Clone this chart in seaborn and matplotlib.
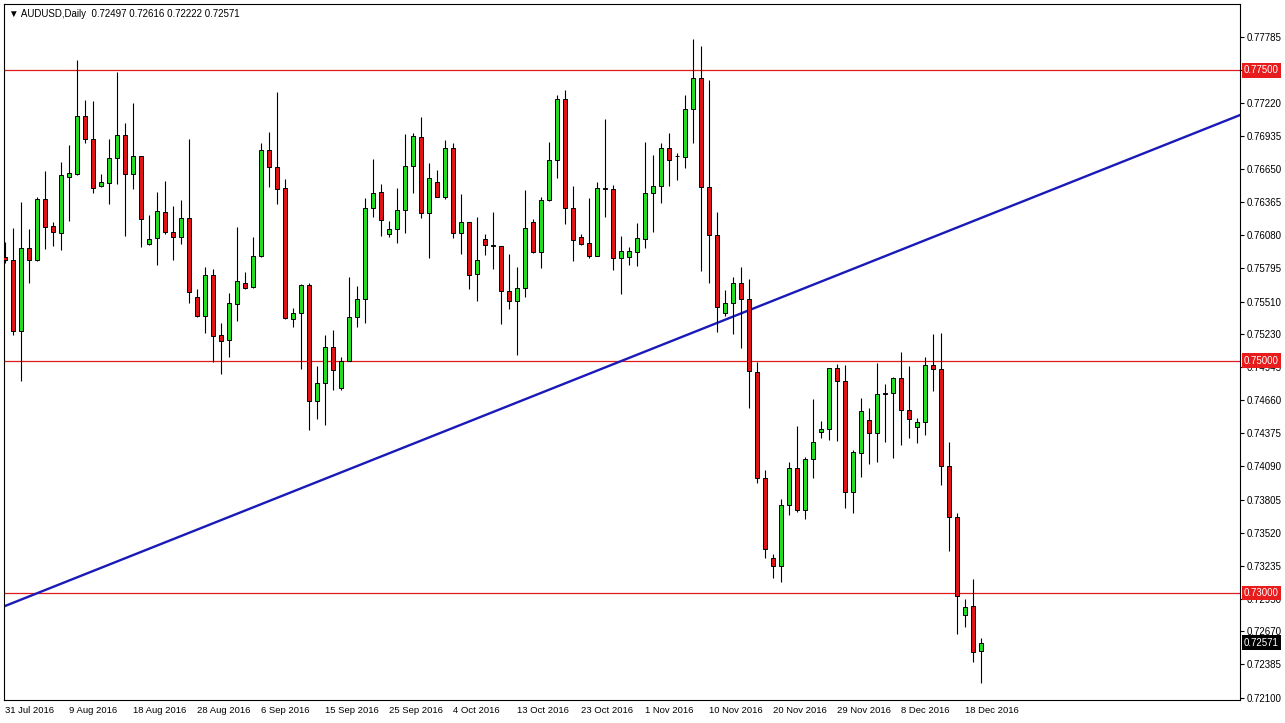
import numpy as np
import matplotlib
matplotlib.use("Agg")
import matplotlib.pyplot as plt
import seaborn as sns

# daily AUDUSD candles, 31 Jul 2016 .. 20 Dec 2016 (Sunday bars included)
opens = [
    0.75896, 0.75868, 0.75259, 0.75969, 0.75868, 0.76391, 0.76163, 0.76098, 0.76585, 0.76611,
    0.77106, 0.76908, 0.76508, 0.76534, 0.76744, 0.76942, 0.76606, 0.76761, 0.76003, 0.76055,
    0.76279, 0.76107, 0.76064, 0.76227, 0.75547, 0.75388, 0.75736, 0.75220, 0.75177, 0.75487,
    0.75667, 0.75633, 0.75905, 0.76813, 0.76666, 0.76486, 0.75363, 0.75409, 0.75650, 0.74656,
    0.74806, 0.75116, 0.74768, 0.75001, 0.75375, 0.75530, 0.76313, 0.76451, 0.76095, 0.76132,
    0.76296, 0.76675, 0.76925, 0.76270, 0.76537, 0.76413, 0.76830, 0.76098, 0.76193, 0.75745,
    0.76046, 0.75993, 0.75986, 0.75601, 0.75518, 0.75624, 0.76193, 0.75940, 0.76382, 0.76727,
    0.77252, 0.76313, 0.76064, 0.76012, 0.75905, 0.76484, 0.76477, 0.75888, 0.75896, 0.75940,
    0.76053, 0.76442, 0.76505, 0.76833, 0.76764, 0.76758, 0.77166, 0.77433, 0.76494, 0.76081,
    0.75409, 0.75495, 0.75667, 0.75530, 0.74901, 0.73988, 0.73299, 0.73233, 0.73755, 0.74074,
    0.73712, 0.74152, 0.74389, 0.74410, 0.74935, 0.74830, 0.73866, 0.74206, 0.74490, 0.74381,
    0.74720, 0.74720, 0.74849, 0.74576, 0.74432, 0.74470, 0.74964, 0.74927, 0.74091, 0.73652,
    0.72811, 0.72888, 0.72497,
]
highs = [
    0.76026, 0.76141, 0.76365, 0.76135, 0.76413, 0.76635, 0.76193, 0.76709, 0.76858, 0.77590,
    0.77246, 0.77237, 0.76609, 0.76910, 0.77485, 0.77045, 0.77218, 0.76764, 0.76256, 0.76451,
    0.76548, 0.76333, 0.76385, 0.76908, 0.75618, 0.75805, 0.75788, 0.75323, 0.75581, 0.76150,
    0.75765, 0.76066, 0.76873, 0.76968, 0.77312, 0.76563, 0.75452, 0.75659, 0.75667, 0.74955,
    0.75222, 0.75265, 0.75035, 0.75724, 0.75644, 0.76399, 0.76738, 0.76520, 0.76201, 0.76488,
    0.76951, 0.76959, 0.77102, 0.76701, 0.76643, 0.76901, 0.76873, 0.76436, 0.76198, 0.76241,
    0.76092, 0.76281, 0.75989, 0.75920, 0.75805, 0.76471, 0.76219, 0.76408, 0.76882, 0.77289,
    0.77332, 0.76505, 0.76092, 0.76402, 0.76537, 0.77082, 0.76514, 0.76075, 0.75977, 0.76184,
    0.76884, 0.76770, 0.76873, 0.76959, 0.76787, 0.77289, 0.77769, 0.77714, 0.77418, 0.76284,
    0.75610, 0.75722, 0.75808, 0.75704, 0.74992, 0.74059, 0.73336, 0.73810, 0.74126, 0.74441,
    0.74174, 0.74671, 0.74482, 0.74941, 0.74970, 0.74964, 0.74229, 0.74677, 0.74591, 0.74978,
    0.74800, 0.74863, 0.75073, 0.74958, 0.74505, 0.75030, 0.75231, 0.75237, 0.74298, 0.73692,
    0.72949, 0.73121, 0.72616,
]
lows = [
    0.75842, 0.75222, 0.74829, 0.75673, 0.75859, 0.75963, 0.75989, 0.75954, 0.76206, 0.76604,
    0.76878, 0.76448, 0.76494, 0.76350, 0.76523, 0.76077, 0.76479, 0.75977, 0.75995, 0.75825,
    0.76092, 0.75868, 0.76006, 0.75500, 0.75380, 0.75242, 0.74992, 0.74886, 0.75035, 0.75345,
    0.75616, 0.75627, 0.75896, 0.76499, 0.76353, 0.75363, 0.75294, 0.74929, 0.74404, 0.74499,
    0.74447, 0.74749, 0.74749, 0.74998, 0.75294, 0.75328, 0.76241, 0.76077, 0.76069, 0.76017,
    0.76103, 0.76442, 0.76227, 0.75888, 0.76408, 0.76391, 0.76055, 0.75917, 0.75616, 0.75518,
    0.75911, 0.75791, 0.75317, 0.75449, 0.75047, 0.75552, 0.75931, 0.75802, 0.76378, 0.76577,
    0.76175, 0.75862, 0.75995, 0.75883, 0.75901, 0.76241, 0.75782, 0.75573, 0.75825, 0.75819,
    0.75974, 0.76112, 0.76362, 0.76508, 0.76557, 0.76658, 0.76878, 0.75776, 0.75667, 0.75248,
    0.75386, 0.75231, 0.75108, 0.74591, 0.73950, 0.73299, 0.73127, 0.73098, 0.73672, 0.73695,
    0.73635, 0.73988, 0.74338, 0.74318, 0.74309, 0.73730, 0.73687, 0.74002, 0.74109, 0.74131,
    0.74303, 0.74160, 0.74275, 0.74338, 0.74295, 0.74361, 0.74742, 0.73930, 0.73365, 0.72647,
    0.72710, 0.72403, 0.72222,
]
closes = [
    0.75868, 0.75259, 0.75969, 0.75868, 0.76391, 0.76150, 0.76107, 0.76597, 0.76615, 0.77106,
    0.76908, 0.76486, 0.76537, 0.76744, 0.76942, 0.76606, 0.76761, 0.76219, 0.76046, 0.76287,
    0.76112, 0.76069, 0.76227, 0.75595, 0.75388, 0.75736, 0.75216, 0.75173, 0.75495, 0.75685,
    0.75630, 0.75900, 0.76813, 0.76666, 0.76482, 0.75371, 0.75409, 0.75650, 0.74656, 0.74806,
    0.75116, 0.74921, 0.75001, 0.75375, 0.75530, 0.76313, 0.76442, 0.76210, 0.76132, 0.76296,
    0.76675, 0.76933, 0.76270, 0.76572, 0.76413, 0.76830, 0.76098, 0.76193, 0.75736, 0.75865,
    0.75995, 0.75989, 0.75598, 0.75518, 0.75624, 0.76141, 0.75940, 0.76382, 0.76727, 0.77252,
    0.76313, 0.76038, 0.76008, 0.75905, 0.76486, 0.76480, 0.75888, 0.75943, 0.75943, 0.76055,
    0.76442, 0.76505, 0.76833, 0.76729, 0.76761, 0.77166, 0.77433, 0.76494, 0.76081, 0.75461,
    0.75498, 0.75667, 0.75530, 0.74912, 0.73988, 0.73377, 0.73233, 0.73755, 0.74074, 0.73712,
    0.74152, 0.74303, 0.74413, 0.74935, 0.74829, 0.73866, 0.74212, 0.74568, 0.74376, 0.74714,
    0.74717, 0.74849, 0.74574, 0.74496, 0.74470, 0.74964, 0.74927, 0.74091, 0.73652, 0.72974,
    0.72882, 0.72495, 0.72571,
]

date_labels = [
    "31 Jul 2016", "9 Aug 2016", "18 Aug 2016", "28 Aug 2016", "6 Sep 2016", "15 Sep 2016",
    "25 Sep 2016", "4 Oct 2016", "13 Oct 2016", "23 Oct 2016", "1 Nov 2016", "10 Nov 2016",
    "20 Nov 2016", "29 Nov 2016", "8 Dec 2016", "18 Dec 2016",
]
# 0.77500 sits under the red level box, so its own label is not shown
price_ticks = [
    0.77785, 0.77500, 0.77220, 0.76935, 0.76650, 0.76365, 0.76080, 0.75795, 0.75510, 0.75230,
    0.74945, 0.74660, 0.74375, 0.74090, 0.73805, 0.73520, 0.73235, 0.72950, 0.72670, 0.72385,
    0.72100,
]
levels = [0.77500, 0.75000, 0.73000]
trend_x = [0, 154.4]
trend_y = [0.72888, 0.77117]
header = "\u25bc AUDUSD,Daily  0.72497 0.72616 0.72222 0.72571"

bull = "#22dd22"
bear = "#e01414"

sns.set_theme(style="white")
plt.rcParams["font.family"] = ["Liberation Sans", "DejaVu Sans"]

fig = plt.figure(figsize=(12.85, 7.23), dpi=100)
ax = fig.add_axes([4 / 1285, 23 / 723, 1236 / 1285, 696 / 723])

o = np.array(opens)
c = np.array(closes)
x = np.arange(len(o))
bottom = np.minimum(o, c)
height = np.maximum(np.abs(c - o), 0.00002)
colors = [bull if cc >= oo else bear for oo, cc in zip(o, c)]

for lv in levels:
    ax.axhline(lv, color="#e01b1b", linewidth=0.9, zorder=1)

sns.lineplot(x=trend_x, y=trend_y, ax=ax, color="#1a1ab8", linewidth=1.7, zorder=2)

ax.vlines(x, lows, highs, color="black", linewidth=0.8, zorder=3)
ax.bar(x, height, bottom=bottom, width=0.62, color=colors,
       edgecolor="black", linewidth=0.7, zorder=4)

ax.set_xlim(-0.125, 154.375)
ax.set_ylim(0.720785, 0.780727)

ax.yaxis.tick_right()
ax.set_yticks(price_ticks)
ax.set_yticklabels(["" if v in levels else f"{v:.5f}" for v in price_ticks])
ax.set_xticks(np.arange(0, len(date_labels) * 8, 8))
ax.set_xticklabels(date_labels, ha="left")
ax.tick_params(axis="both", labelsize=7, length=3, width=0.8, color="black",
               labelcolor="black", direction="out", pad=2)
ax.tick_params(axis="x", labelsize=6.8, pad=1.5)

for spine in ax.spines.values():
    spine.set_color("black")
    spine.set_linewidth(0.8)

for lv in levels:
    ax.text(1 + 4 / 1236, lv, f"{lv:.5f}", transform=ax.get_yaxis_transform(),
            ha="left", va="center", color="white", fontsize=7, clip_on=False,
            bbox=dict(boxstyle="square,pad=0.25", fc="#e81c1c", ec="none"), zorder=6)

ax.text(1 + 4 / 1236, closes[-1], f"{closes[-1]:.5f}", transform=ax.get_yaxis_transform(),
        ha="left", va="center", color="white", fontsize=7, clip_on=False,
        bbox=dict(boxstyle="square,pad=0.25", fc="black", ec="none"), zorder=6)

ax.text(0.004, 0.993, header, transform=ax.transAxes, ha="left", va="top",
        fontsize=7, color="black")

fig.savefig("out.png", dpi=100)
